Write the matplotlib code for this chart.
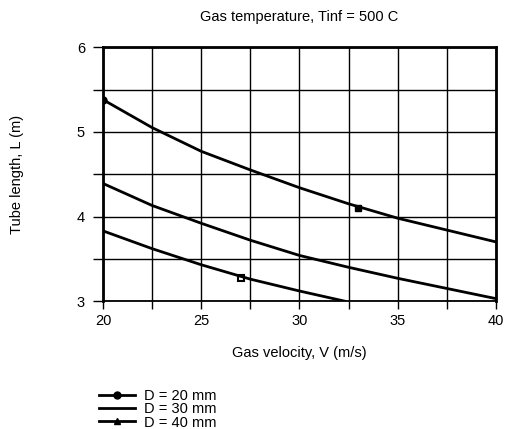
import numpy as np
import matplotlib.pyplot as plt
from matplotlib.ticker import MultipleLocator

plt.rcParams['font.family'] = ['Liberation Sans', 'DejaVu Sans']

# values (velocity in m/s, length in m)
v = [20, 22.5, 25, 27.5, 30, 32.5, 35, 37.5, 40]
L_20 = [5.38, 5.05, 4.77, 4.55, 4.34, 4.15, 3.98, 3.84, 3.70]
L_30 = [4.39, 4.13, 3.92, 3.72, 3.54, 3.40, 3.27, 3.15, 3.03]
v_40 = [20, 22.5, 25, 27.5, 30, 32.3]
L_40 = [3.83, 3.62, 3.43, 3.26, 3.12, 3.00]
labels = ["D = 20 mm", "D = 30 mm", "D = 40 mm"]

fs = 10.5

fig = plt.figure(figsize=(5.05, 4.29), dpi=100)
ax = fig.add_axes([0.204, 0.298, 0.778, 0.592])
ax.plot(v, L_20, color='k', lw=2, marker='o', ms=5, markevery=[0], label=labels[0])
ax.plot(v, L_30, color='k', lw=2, label=labels[1])
ax.plot(v_40, L_40, color='k', lw=2, label=labels[2])
# sparse markers placed on the curves
ax.plot([33], [4.10], color='k', marker='s', ms=5, ls='none')
ax.plot([27], [3.27], color='k', marker='s', ms=5, ls='none', mfc='none', mew=1.5)

ax.set_xlim(20, 40)
ax.set_ylim(3, 6)
ax.xaxis.set_major_locator(MultipleLocator(5))
ax.xaxis.set_minor_locator(MultipleLocator(2.5))
ax.yaxis.set_major_locator(MultipleLocator(1))
ax.yaxis.set_minor_locator(MultipleLocator(0.5))
ax.grid(True, which='both', color='k', lw=1)
ax.tick_params(which='both', direction='out', length=6, width=1, labelsize=fs, pad=3)
ax.tick_params(axis='y', which='both', length=7, pad=6)
for s in ax.spines.values():
    s.set_linewidth(2)
ax.spines['bottom'].set_linewidth(1.3)

ax.set_title("Gas temperature, Tinf = 500 C", fontsize=fs, pad=19)
ax.set_xlabel("Gas velocity, V (m/s)", fontsize=fs, labelpad=13)
ax.set_ylabel("Tube length, L (m)", fontsize=fs, labelpad=38)

h1, = plt.plot([], [], color='k', lw=2, marker='o', ms=5)
h2, = plt.plot([], [], color='k', lw=2)
h3, = plt.plot([], [], color='k', lw=2, marker='^', ms=5)
fig.legend([h1, h2, h3], labels, loc='lower left', bbox_to_anchor=(0.175, -0.025),
           frameon=False, fontsize=fs, handlelength=2.5, labelspacing=-0.05,
           handletextpad=0.6, borderpad=0.2)

fig.savefig("out.png", dpi=100)
